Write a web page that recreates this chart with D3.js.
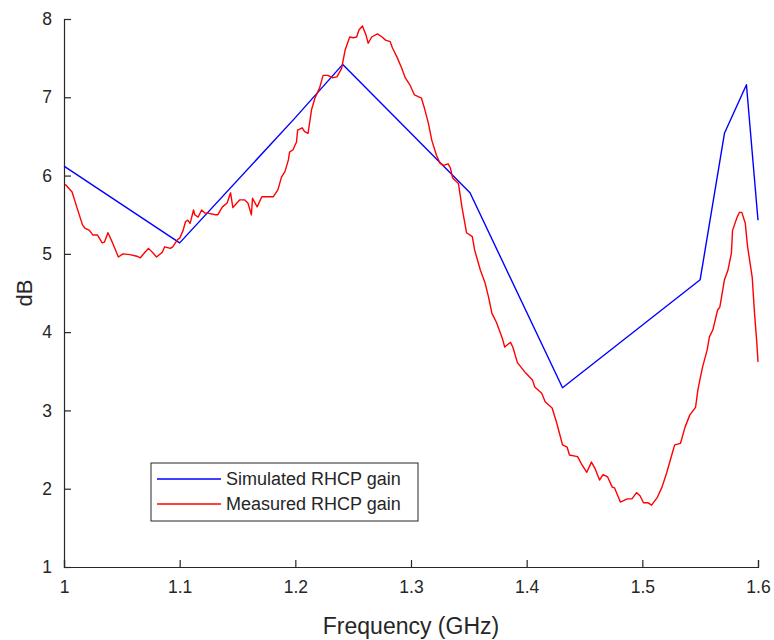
<!DOCTYPE html>
<html>
<head>
<meta charset="utf-8">
<script src="https://cdn.jsdelivr.net/npm/d3@7"></script>
<style>
  html, body { margin: 0; padding: 0; background: #fff; }
  svg { display: block; font-family: "Liberation Sans", Arial, sans-serif; }
</style>
</head>
<body>
<svg id="chart" width="774" height="640"></svg>
<script>
// Simulated RHCP gain (dB) vs frequency (GHz)
const simFreq = [1.0, 1.1, 1.2, 1.241, 1.351, 1.431, 1.55, 1.571, 1.59, 1.6];
const simGain = [6.12, 5.14, 6.74, 7.42, 5.78, 3.29, 4.67, 6.54, 7.16, 5.43];

// Measured RHCP gain (dB) vs frequency (GHz)
const measFreq = [
  1.001, 1.007, 1.011, 1.016, 1.018, 1.022, 1.025, 1.029, 1.033, 1.035,
  1.038, 1.042, 1.047, 1.051, 1.057, 1.063, 1.066, 1.070, 1.073, 1.077,
  1.080, 1.085, 1.087, 1.092, 1.094, 1.098, 1.100, 1.103, 1.105, 1.107,
  1.109, 1.112, 1.113, 1.116, 1.119, 1.122, 1.124, 1.131, 1.133, 1.137,
  1.141, 1.144, 1.146, 1.150, 1.152, 1.156, 1.159, 1.162, 1.163, 1.167,
  1.171, 1.176, 1.181, 1.185, 1.188, 1.191, 1.194, 1.195, 1.198, 1.201,
  1.202, 1.206, 1.208, 1.211, 1.214, 1.217, 1.221, 1.224, 1.228, 1.232,
  1.236, 1.240, 1.243, 1.247, 1.250, 1.253, 1.255, 1.258, 1.261, 1.263,
  1.266, 1.271, 1.275, 1.278, 1.282, 1.284, 1.288, 1.292, 1.295, 1.299,
  1.303, 1.309, 1.312, 1.315, 1.318, 1.322, 1.325, 1.328, 1.332, 1.334,
  1.336, 1.341, 1.344, 1.348, 1.353, 1.355, 1.360, 1.364, 1.367, 1.370,
  1.374, 1.379, 1.381, 1.386, 1.388, 1.392, 1.399, 1.405, 1.407, 1.413,
  1.416, 1.422, 1.426, 1.431, 1.435, 1.437, 1.444, 1.448, 1.452, 1.456,
  1.459, 1.463, 1.466, 1.470, 1.474, 1.476, 1.481, 1.487, 1.491, 1.495,
  1.498, 1.501, 1.505, 1.508, 1.513, 1.517, 1.521, 1.526, 1.528, 1.533,
  1.537, 1.541, 1.546, 1.548, 1.550, 1.552, 1.556, 1.558, 1.561, 1.565,
  1.567, 1.570, 1.571, 1.574, 1.577, 1.578, 1.582, 1.584, 1.586, 1.589,
  1.591, 1.595, 1.597, 1.599, 1.600
];
const measGain = [
  5.89, 5.79, 5.60, 5.37, 5.33, 5.30, 5.24, 5.24, 5.14, 5.15,
  5.27, 5.14, 4.96, 5.00, 4.99, 4.97, 4.95, 5.02, 5.07, 5.01,
  4.96, 5.02, 5.09, 5.07, 5.09, 5.18, 5.20, 5.30, 5.41, 5.43,
  5.39, 5.56, 5.50, 5.47, 5.56, 5.52, 5.52, 5.50, 5.50, 5.60,
  5.65, 5.78, 5.59, 5.66, 5.69, 5.69, 5.65, 5.50, 5.71, 5.60,
  5.73, 5.73, 5.73, 5.82, 5.98, 6.05, 6.20, 6.30, 6.33, 6.43,
  6.58, 6.61, 6.56, 6.54, 6.84, 6.99, 7.12, 7.28, 7.28, 7.25,
  7.26, 7.37, 7.60, 7.77, 7.76, 7.77, 7.86, 7.91, 7.80, 7.69,
  7.77, 7.81, 7.77, 7.73, 7.71, 7.63, 7.51, 7.37, 7.25, 7.16,
  7.03, 6.99, 6.84, 6.67, 6.45, 6.26, 6.16, 6.13, 6.15, 6.10,
  5.97, 5.90, 5.60, 5.27, 5.22, 5.05, 4.79, 4.63, 4.45, 4.24,
  4.12, 3.92, 3.81, 3.87, 3.81, 3.61, 3.48, 3.39, 3.30, 3.22,
  3.11, 3.03, 2.84, 2.56, 2.53, 2.43, 2.41, 2.30, 2.21, 2.34,
  2.26, 2.11, 2.18, 2.15, 2.02, 2.01, 1.83, 1.87, 1.87, 1.95,
  1.91, 1.82, 1.82, 1.79, 1.89, 2.02, 2.20, 2.46, 2.56, 2.58,
  2.79, 2.94, 3.04, 3.26, 3.41, 3.55, 3.77, 3.94, 4.03, 4.28,
  4.32, 4.58, 4.67, 4.79, 5.01, 5.30, 5.47, 5.53, 5.53, 5.39,
  5.09, 4.70, 4.24, 3.86, 3.62
];

const xTicks = [1, 1.1, 1.2, 1.3, 1.4, 1.5, 1.6];
const yTicks = [1, 2, 3, 4, 5, 6, 7, 8];
const legendLabels = ["Simulated RHCP gain", "Measured RHCP gain"];
const seriesColors = ["#0000ff", "#ff0000"];

const svg = d3.select("#chart");
const plot = { left: 64, right: 758, top: 19, bottom: 567 };
const axisColor = "#262626";

const x = d3.scaleLinear().domain([1, 1.6]).range([plot.left, plot.right]);
const y = d3.scaleLinear().domain([1, 8]).range([plot.bottom, plot.top]);

// Axes: ticks point inward, MATLAB style
const xAxis = d3.axisBottom(x).tickValues(xTicks)
  .tickFormat(d => d3.format("")(+d.toFixed(1)))
  .tickSizeInner(-7).tickSizeOuter(-7).tickPadding(14);
const yAxis = d3.axisLeft(y).tickValues(yTicks)
  .tickFormat(d3.format("d"))
  .tickSizeInner(-7).tickSizeOuter(-7).tickPadding(12);

const gx = svg.append("g").attr("transform", `translate(0,${plot.bottom})`).call(xAxis);
const gy = svg.append("g").attr("transform", `translate(${plot.left},0)`).call(yAxis);

[gx, gy].forEach(g => {
  g.select(".domain").attr("stroke", axisColor).attr("stroke-width", 1.2);
  g.selectAll(".tick line").attr("stroke", axisColor).attr("stroke-width", 1.2);
  g.selectAll(".tick text").attr("fill", axisColor)
    .style("font-size", "17.5px").style("font-family", "'Liberation Sans', Arial, sans-serif");
});

// Axis titles
svg.append("text")
  .attr("x", (plot.left + plot.right) / 2).attr("y", 634)
  .attr("text-anchor", "middle").attr("fill", axisColor)
  .style("font-size", "23px")
  .text("Frequency (GHz)");

svg.append("text")
  .attr("transform", `translate(32,${(plot.top + plot.bottom) / 2}) rotate(-90)`)
  .attr("text-anchor", "middle").attr("fill", axisColor)
  .style("font-size", "22px")
  .text("dB");

// Data lines
const line = d3.line().x(d => x(d[0])).y(d => y(d[1]));
const simData = simFreq.map((f, i) => [f, simGain[i]]);
const measData = measFreq.map((f, i) => [f, measGain[i]]);

svg.append("path").datum(simData)
  .attr("d", line).attr("fill", "none")
  .attr("stroke", seriesColors[0]).attr("stroke-width", 1.4)
  .attr("stroke-linejoin", "round");

svg.append("path").datum(measData)
  .attr("d", line).attr("fill", "none")
  .attr("stroke", seriesColors[1]).attr("stroke-width", 1.4)
  .attr("stroke-linejoin", "round");

// Legend
const lg = svg.append("g").attr("transform", "translate(151,463)");
lg.append("rect").attr("width", 267).attr("height", 58)
  .attr("fill", "#fff").attr("stroke", axisColor).attr("stroke-width", 1);
legendLabels.forEach((label, i) => {
  const cy = 16 + i * 25;
  lg.append("line").attr("x1", 6).attr("x2", 70).attr("y1", cy).attr("y2", cy)
    .attr("stroke", seriesColors[i]).attr("stroke-width", 1.4);
  lg.append("text").attr("x", 75).attr("y", cy).attr("dy", "0.35em")
    .attr("fill", axisColor).style("font-size", "18px").text(label);
});
</script>
</body>
</html>
